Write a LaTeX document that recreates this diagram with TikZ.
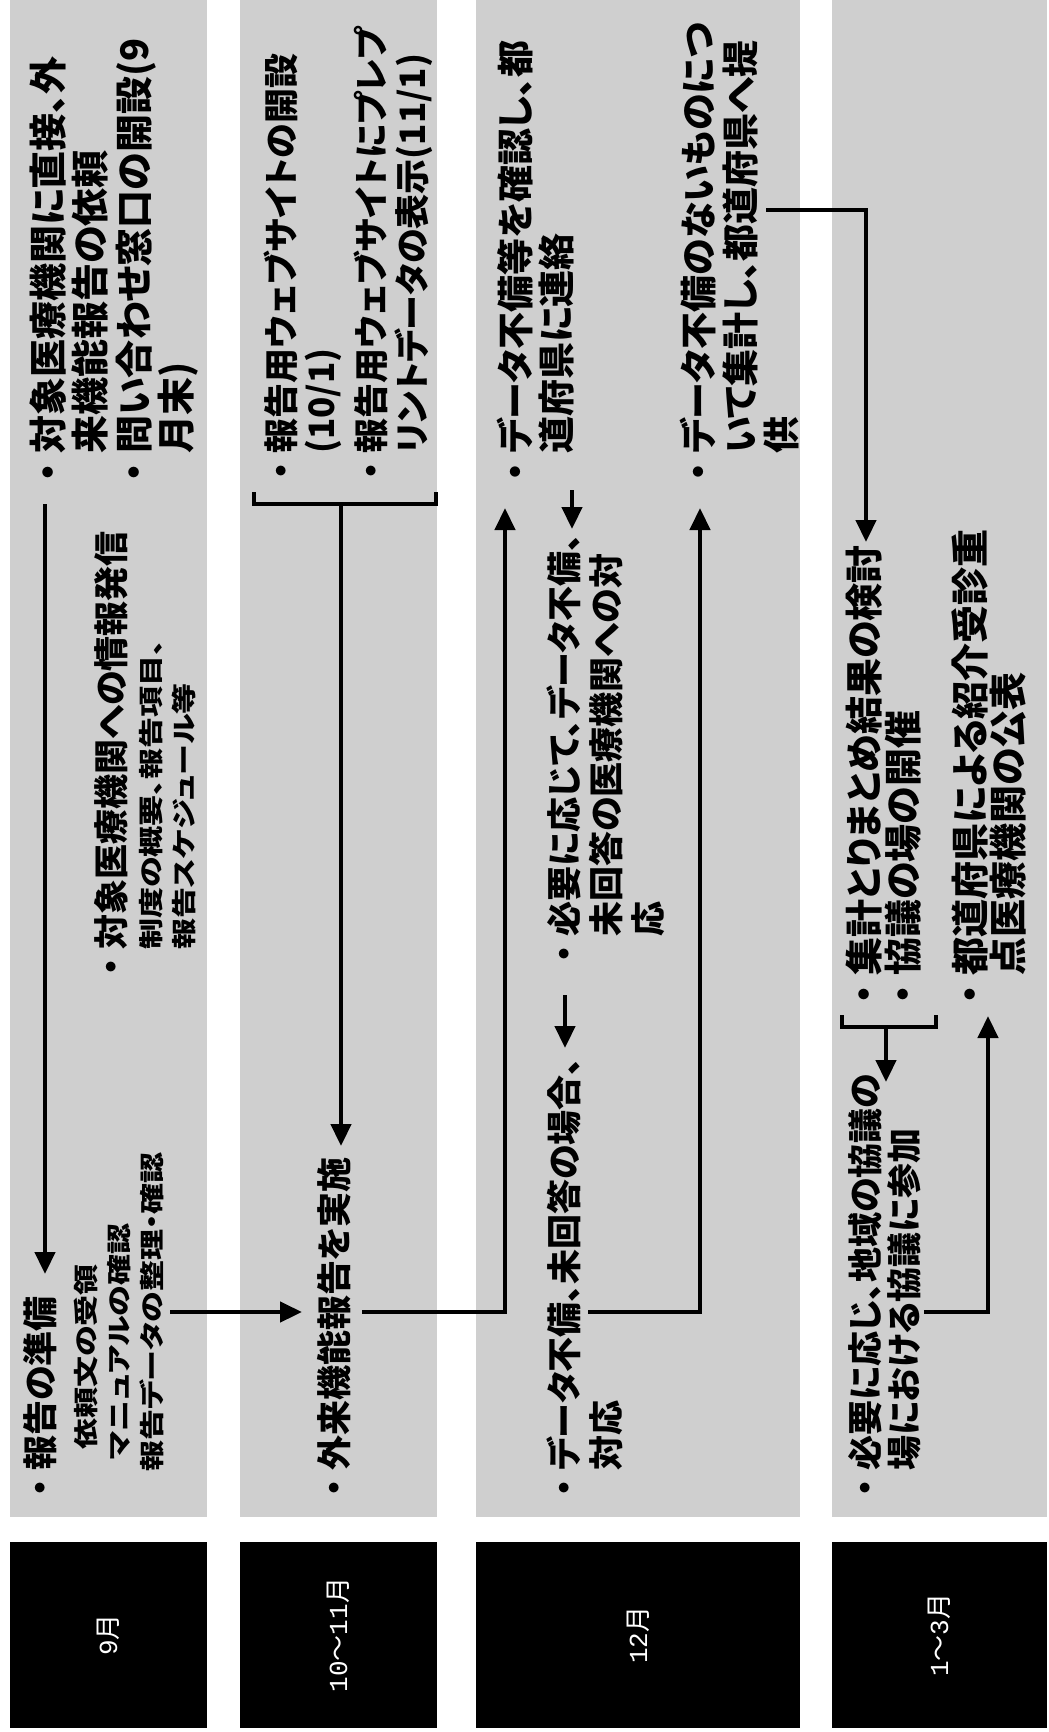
\documentclass[tikz,border=0pt]{standalone}
\usepackage{fontspec}
\usepackage{graphicx}
\newfontfamily\jp[RawFeature=+palt]{Noto Sans CJK JP}
\newfontfamily\jpn{Noto Sans CJK JP}
\newfontfamily\digf{Liberation Mono}
\usetikzlibrary{arrows.meta}
\newcommand{\bu}{\makebox[1em][c]{\jpn ・}}
\newcommand{\sq}[1]{\scalebox{1}[0.8]{#1}}
\tikzset{
  ln/.style={anchor=west, inner sep=0pt, text height=30pt, text depth=5pt, font=\jp\bfseries\fontsize{#1}{#1}\selectfont},
  ln/.default=35,
  sm/.style={anchor=west, inner sep=0pt, text height=22pt, text depth=4pt, font=\jp\bfseries\fontsize{31}{34}\selectfont},
  lab/.style={text=white, inner sep=0pt, font=\jpn\fontsize{26}{30}\selectfont},
  con/.style={line width=4.5pt},
  arr/.style={con, -{Triangle[length=22pt,width=20pt]}},
  band/.style={fill=black!19},
  mbox/.style={fill=black},
}
\begin{document}
\begin{tikzpicture}[x=1pt,y=1pt]
\useasboundingbox (0,0) rectangle (1049,-1732);
\fill[white] (0,0) rectangle (1049,-1732);
\begin{scope}[shift={(0,-1732)}, rotate=90, transform shape]
  % bands and month boxes
  \fill[band] (215,-10) rectangle (1732,-207);
  \fill[band] (215,-240) rectangle (1732,-437);
  \fill[band] (215,-476) rectangle (1732,-800);
  \fill[band] (215,-832) rectangle (1732,-1047);
  \fill[mbox] (4,-10) rectangle (190,-207);
  \fill[mbox] (4,-240) rectangle (190,-437);
  \fill[mbox] (4,-476) rectangle (190,-800);
  \fill[mbox] (4,-832) rectangle (190,-1047);
  \node[lab] (m9) at (97,-108) {{\digf 9}月};
  \node[lab] (m10) at (97,-338) {{\digf 10}～{\digf 11}月};
  \node[lab] (m12) at (97,-638) {{\digf 12}月};
  \node[lab] (m1) at (97,-939) {{\digf 1}～{\digf 3}月};

  % row 1 (9月)
  \node[ln] (n11) at (226,-41) {\bu 報告の準備};
  \node[sm] (s1) at (282,-86) {\sq{依頼文の受領}};
  \node[sm] (s2) at (272,-119) {\sq{マニュアルの確認}};
  \node[sm] (s3) at (260,-152) {\sq{報告データの整理・確認}};
  \node[ln] (n12) at (747,-112) {\bu 対象医療機関への情報発信};
  \node[sm] (n12a) at (782,-151) {\sq{制度の概要、報告項目、}};
  \node[sm] (n12b) at (782,-184) {\sq{報告スケジュール等}};
  \node[ln=38] (n13) at (1240,-50) {\bu 対象医療機関に直接、外};
  \node[ln=38] (n13b) at (1278,-92) {来機能報告の依頼};
  \node[ln=38] (n14) at (1240,-136) {\bu 問い合わせ窓口の開設(9};
  \node[ln=38] (n14b) at (1278,-178) {月末)};

  % row 2 (10~11月)
  \node[ln] (n21) at (226,-335) {\bu 外来機能報告を実施};
  \node[ln] (n22) at (1243,-282) {\bu 報告用ウェブサイトの開設};
  \node[ln] (n22b) at (1278,-322) {(10/1)};
  \node[ln] (n23) at (1243,-372) {\bu 報告用ウェブサイトにプレプ};
  \node[ln] (n23b) at (1278,-413) {リントデータの表示(11/1)};

  % row 3 (12月)
  \node[ln] (c1) at (226,-565) {\bu データ不備、未回答の場合、};
  \node[ln] (c2) at (261,-607) {対応};
  \node[ln] (b1) at (760,-565) {\bu 必要に応じて、データ不備、};
  \node[ln] (b2) at (795,-607) {未回答の医療機関への対};
  \node[ln] (b3) at (795,-649) {応};
  \node[ln=37] (a1) at (1241,-517) {\bu データ不備等を確認し、都};
  \node[ln=37] (a2) at (1278,-558) {道府県に連絡};
  \node[ln=37] (d1) at (1241,-700) {\bu データ不備のないものにつ};
  \node[ln=37] (d2) at (1278,-742) {いて集計し、都道府県へ提};
  \node[ln=37] (d3) at (1278,-783) {供};

  % row 4 (1~3月)
  \node[ln] (f1) at (226,-866) {\bu 必要に応じ、地域の協議の};
  \node[ln] (f2) at (261,-905) {場における協議に参加};
  \node[ln=38] (e1) at (718,-866) {\bu 集計とりまとめ結果の検討};
  \node[ln=38] (e2) at (718,-905) {\bu 協議の場の開催};
  \node[ln=38] (g1) at (718,-972) {\bu 都道府県による紹介受診重};
  \node[ln=38] (g2) at (756,-1010) {点医療機関の公表};

  % connector points
  \coordinate (p1s) at (1228,-45);   \coordinate (p1e) at (458,-45);
  \coordinate (p2s) at (420,-170);   \coordinate (p2e) at (420,-302);
  \coordinate (k1) at (1240,-254);   \coordinate (k2) at (1228,-254);
  \coordinate (k3) at (1228,-436);   \coordinate (k4) at (1240,-436);
  \coordinate (p3s) at (1228,-341);  \coordinate (p3e) at (586,-341);
  \coordinate (p4s) at (420,-362);   \coordinate (p4m) at (420,-505);
  \coordinate (p4e) at (1224,-505);
  \coordinate (p5s) at (1242,-572);  \coordinate (p5e) at (1203,-572);
  \coordinate (p6s) at (737,-565);   \coordinate (p6e) at (684,-565);
  \coordinate (p7s) at (420,-588);   \coordinate (p7m) at (420,-700);
  \coordinate (p7e) at (1224,-700);
  \coordinate (p8s) at (1522,-766);  \coordinate (p8m) at (1522,-866);
  \coordinate (p8e) at (1190,-866);
  \coordinate (q1) at (717,-842);    \coordinate (q2) at (705,-842);
  \coordinate (q3) at (705,-936);    \coordinate (q4) at (717,-936);
  \coordinate (p9s) at (705,-886);   \coordinate (p9e) at (650,-886);
  \coordinate (p10s) at (420,-924);  \coordinate (p10m) at (420,-988);
  \coordinate (p10e) at (716,-988);

  % connectors
  \draw[arr] (p1s) -- (p1e);
  \draw[arr] (p2s) -- (p2e);
  \draw[con] (k1) -- (k2) -- (k3) -- (k4);
  \draw[arr] (p3s) -- (p3e);
  \draw[arr] (p4s) -- (p4m) -- (p4e);
  \draw[arr] (p5s) -- (p5e);
  \draw[arr] (p6s) -- (p6e);
  \draw[arr] (p7s) -- (p7m) -- (p7e);
  \draw[arr] (p8s) -- (p8m) -- (p8e);
  \draw[con] (q1) -- (q2) -- (q3) -- (q4);
  \draw[arr] (p9s) -- (p9e);
  \draw[arr] (p10s) -- (p10m) -- (p10e);
\end{scope}
\end{tikzpicture}
\end{document}
